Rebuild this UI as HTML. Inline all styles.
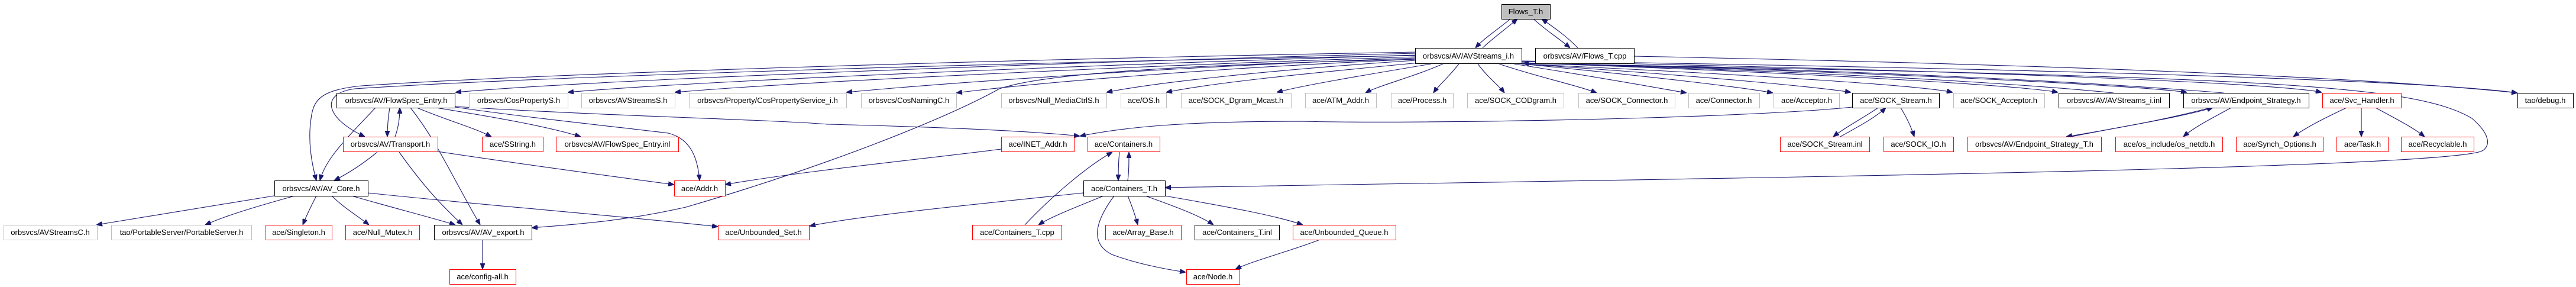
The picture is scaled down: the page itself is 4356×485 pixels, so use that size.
<!DOCTYPE html>
<html><head><meta charset="utf-8"><style>
html,body{margin:0;padding:0;background:#fff;width:4356px;height:485px;overflow:hidden}
svg text{font-family:"Liberation Sans",Helvetica,Arial,sans-serif;font-size:13px;text-anchor:middle;fill:#000}
.e{fill:none;stroke:#191970;stroke-width:1.1}
.b{fill:#fff;stroke:#000;stroke-width:1}
.g{fill:#fff;stroke:#bfbfbf;stroke-width:1}
.r{fill:#fff;stroke:#ff0000;stroke-width:1}
</style></head><body>
<svg width="4356" height="485" viewBox="0 0 4356 485" xmlns="http://www.w3.org/2000/svg">
<defs><marker id="a" viewBox="0 0 10 8" refX="10" refY="4" markerWidth="10" markerHeight="8" markerUnits="userSpaceOnUse" orient="auto"><path d="M0,0 L10,4 L0,8 z" fill="#191970" stroke="#191970"/></marker></defs>
<g class="e" marker-end="url(#a)">
<!-- Flows_T.h cycles -->
<path d="M2554,32 C2530,52 2510,64 2495,81"/>
<path d="M2507,81 C2525,64 2545,50 2566,32"/>
<path d="M2593,32 C2615,52 2635,64 2655,81"/>
<path d="M2668,81 C2650,62 2630,48 2607,32"/>
<path d="M2763,95 C3500,110 4000,130 4257,157"/>
<!-- AVStreams_i.h to row2 -->
<path d="M2394,90 C1800,105 1000,135 770,156"/>
<path d="M2394,93 C1900,108 1200,135 960,156"/>
<path d="M2394,96 C1950,110 1350,138 1141,156"/>
<path d="M2394,98 C2000,112 1600,140 1431,156"/>
<path d="M2394,100 C2050,115 1750,140 1617,157"/>
<path d="M2394,102 C2150,118 1950,140 1871,156"/>
<path d="M2400,106 C2200,125 2050,140 1972,156"/>
<path d="M2420,108 C2300,128 2200,145 2159,156"/>
<path d="M2440,108 C2390,130 2330,145 2309,157"/>
<path d="M2467,108 C2450,130 2432,145 2424,157"/>
<path d="M2499,108 C2515,130 2535,145 2544,157"/>
<path d="M2535,108 C2600,130 2670,145 2700,157"/>
<path d="M2560,108 C2700,130 2800,148 2852,157"/>
<path d="M2573,108 C2800,130 2950,148 2998,157"/>
<path d="M2573,108 C2900,130 3080,148 3130,156"/>
<path d="M2573,108 C3000,128 3250,145 3302,156"/>
<path d="M2573,106 C3100,125 3420,145 3480,156"/>
<path d="M2573,106 C3200,122 3620,145 3698,156"/>
<path d="M2573,104 C3300,118 3850,140 3926,156"/>
<path d="M2573,103 C3400,115 4100,135 4257,157"/>
<path d="M3574,157 C3300,130 2800,112 2575,107"/>
<path d="M3760,157 C3400,128 2900,112 2575,107"/>
<!-- long ones -->
<path d="M2394,88 C1700,100 900,125 612,145 C540,152 530,170 526,200 C520,240 528,280 535,305"/>
<path d="M2394,94 C1700,105 900,130 600,150 C540,158 550,200 617,231"/>
<path d="M2394,100 C1900,112 1750,130 1690,150 C1600,200 1400,280 1160,350 C1050,375 960,380 899,385"/>
<path d="M2573,107 C3800,130 4080,140 4180,200 C4215,230 4210,250 4195,256 C4100,285 3000,300 1970,317"/>
<path d="M3132,181 C2950,200 2400,210 2200,205 C2000,205 1900,215 1826,230"/>
<!-- FlowSpec_Entry -->
<path d="M770,180 C1000,195 1300,202 1400,210 C1600,215 1750,222 1826,230"/>
<path d="M737,182 C850,200 930,215 982,231"/>
<path d="M770,181 C900,200 1050,215 1130,225 C1170,235 1180,270 1183,305"/>
<path d="M705,182 C760,205 800,215 831,231"/>
<path d="M659,182 C656,200 655,215 655,231"/>
<path d="M668,231 C674,215 676,200 676,182"/>
<path d="M694,182 C740,240 765,300 812,380"/>
<path d="M635,182 C580,240 550,270 541,305"/>
<!-- Transport -->
<path d="M638,257 C610,280 585,295 565,305"/>
<path d="M675,257 C720,320 750,350 782,380"/>
<path d="M740,256 C900,280 1050,300 1140,312"/>
<!-- AV_Core -->
<path d="M463,331 C350,350 250,365 163,380"/>
<path d="M498,331 C430,350 380,365 347,380"/>
<path d="M535,331 C525,350 518,365 512,380"/>
<path d="M561,331 C580,350 605,365 624,380"/>
<path d="M595,331 C660,350 720,365 770,380"/>
<path d="M622,326 C800,345 1050,365 1214,383"/>
<path d="M816,405 L816,455"/>
<!-- INET / Containers -->
<path d="M1693,252 C1550,270 1350,290 1226,312"/>
<path d="M1893,257 C1891,275 1891,290 1891,305"/>
<path d="M1907,305 C1909,290 1909,275 1909,257"/>
<path d="M1733,380 C1780,330 1840,280 1881,257"/>
<path d="M1832,326 C1650,345 1450,365 1369,382"/>
<path d="M1866,331 C1820,350 1780,365 1756,380"/>
<path d="M1907,331 C1915,350 1920,365 1924,380"/>
<path d="M1937,331 C1990,350 2030,365 2052,380"/>
<path d="M1970,331 C2080,350 2160,365 2203,380"/>
<path d="M1884,331 C1855,370 1840,410 1880,430 C1920,445 1970,455 2005,460"/>
<path d="M2232,405 C2180,425 2120,440 2089,455"/>
<!-- SOCK_Stream -->
<path d="M3176,182 C3150,200 3120,215 3100,231"/>
<path d="M3112,231 C3140,215 3170,200 3189,182"/>
<path d="M3214,182 C3225,200 3232,215 3237,231"/>
<!-- Endpoint_Strategy -->
<path d="M3738,182 C3650,205 3560,220 3494,231"/>
<path d="M3502,231 C3580,215 3680,200 3742,182"/>
<path d="M3773,182 C3740,200 3710,215 3692,231"/>
<!-- Svc_Handler -->
<path d="M3968,182 C3930,200 3900,215 3878,231"/>
<path d="M3993,182 L3993,231"/>
<path d="M4017,182 C4050,200 4080,215 4100,231"/>
</g>
<g>
<rect class="b" x="2539.5" y="7.5" width="82" height="25" style="fill:#bfbfbf"/><text x="2580" y="24">Flows_T.h</text>
<rect class="b" x="2393.5" y="81.5" width="180" height="26"/><text x="2483" y="99">orbsvcs/AV/AVStreams_i.h</text>
<rect class="b" x="2596.5" y="81.5" width="167" height="26"/><text x="2680" y="99">orbsvcs/AV/Flows_T.cpp</text>

<rect class="b" x="569.5" y="157.5" width="200" height="25"/><text x="670" y="174">orbsvcs/AV/FlowSpec_Entry.h</text>
<rect class="g" x="793.5" y="157.5" width="167" height="25"/><text x="877" y="174">orbsvcs/CosPropertyS.h</text>
<rect class="g" x="983.5" y="157.5" width="158" height="25"/><text x="1062" y="174">orbsvcs/AVStreamsS.h</text>
<rect class="g" x="1165.5" y="157.5" width="266" height="25"/><text x="1298" y="174">orbsvcs/Property/CosPropertyService_i.h</text>
<rect class="g" x="1456.5" y="157.5" width="161" height="25"/><text x="1537" y="174">orbsvcs/CosNamingC.h</text>
<rect class="g" x="1693.5" y="157.5" width="178" height="25"/><text x="1782" y="174">orbsvcs/Null_MediaCtrlS.h</text>
<rect class="g" x="1895.5" y="157.5" width="77" height="25"/><text x="1934" y="174">ace/OS.h</text>
<rect class="g" x="1997.5" y="157.5" width="186" height="25"/><text x="2090" y="174">ace/SOCK_Dgram_Mcast.h</text>
<rect class="g" x="2207.5" y="157.5" width="120" height="25"/><text x="2267" y="174">ace/ATM_Addr.h</text>
<rect class="g" x="2352.5" y="157.5" width="105" height="25"/><text x="2405" y="174">ace/Process.h</text>
<rect class="g" x="2481.5" y="157.5" width="163" height="25"/><text x="2563" y="174">ace/SOCK_CODgram.h</text>
<rect class="g" x="2669.5" y="157.5" width="163" height="25"/><text x="2751" y="174">ace/SOCK_Connector.h</text>
<rect class="g" x="2855.5" y="157.5" width="120" height="25"/><text x="2915" y="174">ace/Connector.h</text>
<rect class="g" x="2999.5" y="157.5" width="111" height="25"/><text x="3055" y="174">ace/Acceptor.h</text>
<rect class="b" x="3132.5" y="157.5" width="147" height="25"/><text x="3206" y="174">ace/SOCK_Stream.h</text>
<rect class="g" x="3303.5" y="157.5" width="154" height="25"/><text x="3380" y="174">ace/SOCK_Acceptor.h</text>
<rect class="b" x="3481.5" y="157.5" width="187" height="25"/><text x="3575" y="174">orbsvcs/AV/AVStreams_i.inl</text>
<rect class="b" x="3692.5" y="157.5" width="212" height="25"/><text x="3798" y="174">orbsvcs/AV/Endpoint_Strategy.h</text>
<rect class="r" x="3927.5" y="157.5" width="133" height="25"/><text x="3994" y="174">ace/Svc_Handler.h</text>
<rect class="b" x="4257.5" y="157.5" width="94" height="25"/><text x="4304" y="174">tao/debug.h</text>

<rect class="r" x="580.5" y="231.5" width="160" height="25"/><text x="660" y="248">orbsvcs/AV/Transport.h</text>
<rect class="r" x="815.5" y="231.5" width="103" height="25"/><text x="867" y="248">ace/SString.h</text>
<rect class="r" x="940.5" y="231.5" width="207" height="25"/><text x="1044" y="248">orbsvcs/AV/FlowSpec_Entry.inl</text>
<rect class="r" x="1693.5" y="231.5" width="123" height="25"/><text x="1755" y="248">ace/INET_Addr.h</text>
<rect class="r" x="1839.5" y="231.5" width="122" height="25"/><text x="1900" y="248">ace/Containers.h</text>
<rect class="r" x="3010.5" y="231.5" width="151" height="25"/><text x="3086" y="248">ace/SOCK_Stream.inl</text>
<rect class="r" x="3185.5" y="231.5" width="118" height="25"/><text x="3244" y="248">ace/SOCK_IO.h</text>
<rect class="r" x="3327.5" y="231.5" width="226" height="25"/><text x="3440" y="248">orbsvcs/AV/Endpoint_Strategy_T.h</text>
<rect class="r" x="3577.5" y="231.5" width="181" height="25"/><text x="3668" y="248">ace/os_include/os_netdb.h</text>
<rect class="r" x="3781.5" y="231.5" width="147" height="25"/><text x="3855" y="248">ace/Synch_Options.h</text>
<rect class="r" x="3951.5" y="231.5" width="87" height="25"/><text x="3995" y="248">ace/Task.h</text>
<rect class="r" x="4060.5" y="231.5" width="123" height="25"/><text x="4122" y="248">ace/Recyclable.h</text>

<rect class="b" x="464.5" y="305.5" width="158" height="26"/><text x="543" y="323">orbsvcs/AV/AV_Core.h</text>
<rect class="r" x="1140.5" y="305.5" width="86" height="26"/><text x="1183" y="323">ace/Addr.h</text>
<rect class="b" x="1832.5" y="305.5" width="138" height="26"/><text x="1901" y="323">ace/Containers_T.h</text>

<rect class="g" x="6.5" y="380.5" width="158" height="25"/><text x="85" y="397">orbsvcs/AVStreamsC.h</text>
<rect class="g" x="188.5" y="380.5" width="237" height="25"/><text x="307" y="397">tao/PortableServer/PortableServer.h</text>
<rect class="r" x="449.5" y="380.5" width="112" height="25"/><text x="505" y="397">ace/Singleton.h</text>
<rect class="r" x="584.5" y="380.5" width="125" height="25"/><text x="647" y="397">ace/Null_Mutex.h</text>
<rect class="b" x="734.5" y="380.5" width="165" height="25"/><text x="817" y="397">orbsvcs/AV/AV_export.h</text>
<rect class="r" x="1214.5" y="380.5" width="154" height="25"/><text x="1291" y="397">ace/Unbounded_Set.h</text>
<rect class="r" x="1644.5" y="380.5" width="151" height="25"/><text x="1720" y="397">ace/Containers_T.cpp</text>
<rect class="r" x="1869.5" y="380.5" width="128" height="25"/><text x="1933" y="397">ace/Array_Base.h</text>
<rect class="b" x="2020.5" y="380.5" width="143" height="25"/><text x="2092" y="397">ace/Containers_T.inl</text>
<rect class="r" x="2186.5" y="380.5" width="174" height="25"/><text x="2273" y="397">ace/Unbounded_Queue.h</text>

<rect class="r" x="760.5" y="455.5" width="112" height="25"/><text x="816" y="472">ace/config-all.h</text>
<rect class="r" x="2006.5" y="455.5" width="90" height="25"/><text x="2051" y="472">ace/Node.h</text>
</g>
</svg>
</body></html>
